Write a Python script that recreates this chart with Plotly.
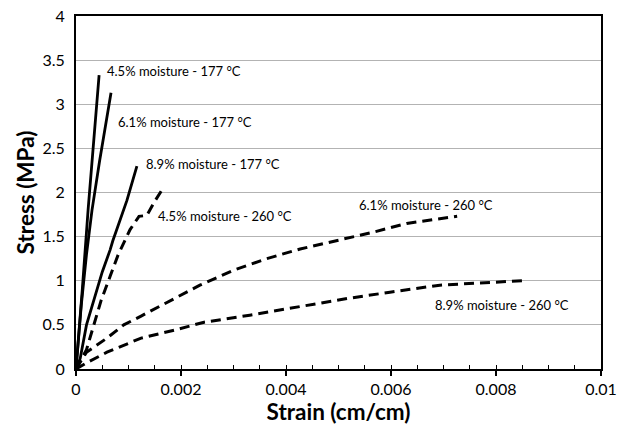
import plotly.graph_objects as go

# ---- data ----
s1_x = [0, 0.00005, 0.00012, 0.00023, 0.00034, 0.00044]
s1_y = [0, 0.35, 0.9, 1.8, 2.6, 3.33]

s2_x = [0, 0.0001, 0.0002, 0.000305, 0.00045, 0.00058, 0.000667]
s2_y = [0, 0.72, 1.3, 1.8, 2.36, 2.8, 3.13]

s3_x = [0, 0.00008, 0.0002, 0.0005, 0.00065, 0.0007, 0.00097, 0.00116]
s3_y = [0, 0.12, 0.5, 1.1, 1.35, 1.45, 1.91, 2.3]

s4_x = [0, 0.0002, 0.00034, 0.00048, 0.00065, 0.0008, 0.00103, 0.0012, 0.00135, 0.0015, 0.00167]
s4_y = [0, 0.22, 0.5, 0.78, 1.05, 1.29, 1.58, 1.73, 1.74, 1.9, 2.06]

s5_x = [0, 0.0002, 0.00059, 0.00091, 0.00124, 0.00187, 0.00236, 0.003, 0.00363, 0.00427, 0.00518, 0.00566, 0.0063, 0.00726]
s5_y = [0, 0.19, 0.35, 0.5, 0.6, 0.8, 0.95, 1.12, 1.25, 1.36, 1.48, 1.55, 1.65, 1.73]

s6_x = [0, 0.0002, 0.00059, 0.00124, 0.00187, 0.00244, 0.00331, 0.00427, 0.00518, 0.00598, 0.00693, 0.0085]
s6_y = [0, 0.07, 0.19, 0.35, 0.44, 0.53, 0.61, 0.71, 0.80, 0.87, 0.95, 1.0]

series_names = ["4.5% moisture - 177 °C", "6.1% moisture - 177 °C", "8.9% moisture - 177 °C",
                "4.5% moisture - 260 °C", "6.1% moisture - 260 °C", "8.9% moisture - 260 °C"]
label_x = [0.00055, 0.00076, 0.0013, 0.00152, 0.00535, 0.0068]
label_y = [3.38, 2.80, 2.32, 1.73, 1.86, 0.725]

x_ticks = [0, 0.002, 0.004, 0.006, 0.008, 0.01]
x_ticktext = ["0", "0.002", "0.004", "0.006", "0.008", "0.01"]
y_ticks = [0, 0.5, 1, 1.5, 2, 2.5, 3, 3.5, 4]
y_ticktext = ["0", "0.5", "1", "1.5", "2", "2.5", "3", "3.5", "4"]

FONT = "Lato, Carlito, Calibri, sans-serif"

fig = go.Figure()
xs = [s1_x, s2_x, s3_x, s4_x, s5_x, s6_x]
ys = [s1_y, s2_y, s3_y, s4_y, s5_y, s6_y]
for i, (x, y) in enumerate(zip(xs, ys)):
    fig.add_trace(go.Scatter(
        x=x, y=y, mode="lines", name=series_names[i],
        line=dict(color="black", width=2.8 if i < 3 else 3,
                  dash="solid" if i < 3 else "10px,6px"),
        showlegend=False))

for tx, ty, tt in zip(label_x, label_y, series_names):
    fig.add_annotation(x=tx, y=ty, text=tt, showarrow=False, xanchor="left",
                       yanchor="middle", font=dict(family=FONT, size=13, color="black"))

fig.update_layout(
    width=617, height=429,
    margin=dict(l=76, r=16, t=16, b=60),
    paper_bgcolor="white", plot_bgcolor="white",
    font=dict(family=FONT, color="black"),
)
fig.update_xaxes(
    range=[0, 0.01], tickvals=x_ticks, ticktext=x_ticktext, automargin=False,
    showgrid=False, zeroline=False,
    showline=True, linecolor="black", linewidth=2, mirror=True,
    ticks="outside", ticklen=5, tickwidth=1.5, tickcolor="black",
    minor=dict(dtick=0.0005, ticks="inside", ticklen=4, tickwidth=1, tickcolor="black", showgrid=False),
    tickfont=dict(family=FONT, size=16, color="black"),
    title=dict(text="<b>Strain (cm/cm)</b>", font=dict(family=FONT, size=22.5, color="black"), standoff=0),
)
fig.update_yaxes(
    range=[0, 4], tickvals=y_ticks, ticktext=y_ticktext, automargin=False,
    showgrid=True, gridcolor="#b3b3b3", gridwidth=1, zeroline=False,
    showline=True, linecolor="black", linewidth=2, mirror=True,
    ticks="", ticklabelstandoff=6, tickfont=dict(family=FONT, size=16, color="black"),
    title=dict(text="<b>Stress (MPa)</b>", font=dict(family=FONT, size=22.5, color="black"), standoff=2),
)

fig.write_html("out.html")
